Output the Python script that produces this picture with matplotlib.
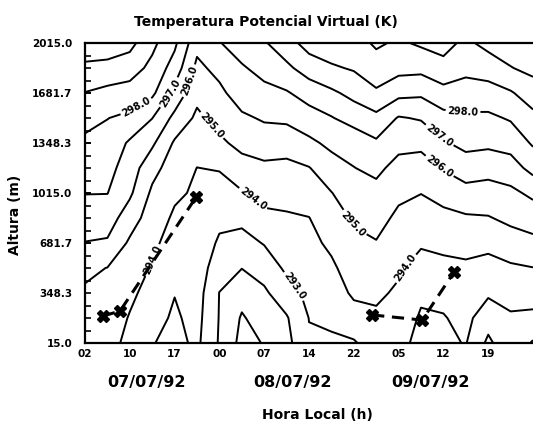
import numpy as np
import matplotlib
matplotlib.use("Agg")
import matplotlib.pyplot as plt
from matplotlib.ticker import AutoMinorLocator

plt.rcParams['font.family'] = ['DejaVu Sans']
plt.rcParams['font.weight'] = 'bold'

# ---------------- data ----------------
# grid times (hours since 07/07/92 00h) and heights (m)
times = [2.0, 5.67, 9.33, 13.0, 16.67, 20.33, 24.0, 27.67, 31.33, 35.0, 38.67,
         42.33, 46.0, 49.67, 53.33, 57.0, 60.67, 64.33, 68.0, 71.67, 75.33]
heights = [15.0, 181.7, 348.3, 515.0, 681.7, 848.3, 1015.0, 1181.7, 1348.3,
           1515.0, 1681.7, 1848.3, 2015.0]

# virtual potential temperature (K), one row per height (bottom -> top)
theta_v = [
    [294.5, 294.4, 293.7, 293.05, 292.7, 293.2, 291.9, 290.7, 291.05, 291.7, 292.9,
     292.85, 292.9, 293.5, 293.3, 292.7, 292.8, 293.05, 291.8, 292.7, 291.9],
    [294.68, 294.59, 293.93, 293.34, 292.86, 293.31, 291.95, 290.90, 291.45, 291.91, 293.02,
     293.18, 293.6, 293.83, 293.57, 292.88, 292.94, 293.28, 292.4, 292.9, 292.77],
    [294.87, 294.78, 294.21, 293.62, 293.03, 293.42, 291.98, 291.34, 291.84, 292.58, 293.25,
     293.51, 294.16, 294.18, 293.85, 293.17, 293.27, 293.57, 293.15, 293.28, 293.43],
    [295.21, 294.98, 294.53, 293.91, 293.30, 293.54, 292.43, 292.02, 292.39, 293.19, 293.49,
     293.83, 294.47, 294.57, 294.14, 293.64, 293.75, 293.85, 293.67, 293.86, 293.98],
    [295.97, 295.88, 294.84, 294.21, 293.58, 293.65, 292.86, 292.63, 293.06, 293.54, 293.74,
     294.19, 294.78, 294.95, 294.47, 294.11, 294.24, 294.29, 294.25, 294.56, 294.75],
    [296.51, 296.47, 295.48, 294.51, 293.85, 293.76, 293.23, 293.26, 293.77, 293.89, 293.98,
     294.58, 295.12, 295.34, 294.80, 294.55, 294.74, 294.88, 294.94, 295.22, 295.45],
    [297.03, 297.02, 296.17, 294.82, 294.16, 293.87, 293.63, 293.92, 294.33, 294.31, 294.46,
     294.97, 295.55, 295.73, 295.2, 295.02, 295.34, 295.65, 295.59, 295.78, 296.21],
    [297.42, 297.33, 296.51, 295.33, 294.51, 293.99, 294.06, 294.63, 294.82, 294.76, 294.96,
     295.58, 295.98, 296.21, 295.7, 295.58, 296.07, 296.52, 296.36, 296.56, 297.33],
    [297.80, 297.67, 296.86, 296.17, 294.87, 294.38, 294.82, 295.27, 295.44, 295.40, 295.79,
     296.23, 296.35, 296.85, 296.26, 296.23, 296.9, 297.27, 297.21, 297.37, 298.12],
    [298.32, 298.02, 297.79, 297.02, 295.73, 294.81, 295.33, 295.82, 296.12, 296.20, 296.58,
     296.94, 297.41, 297.73, 296.92, 297.09, 297.69, 297.82, 297.81, 298.1, 298.73],
    [298.97, 298.74, 298.57, 298.21, 296.70, 295.27, 295.76, 296.53, 296.71, 296.91, 297.41,
     297.82, 298.29, 298.86, 298.29, 298.18, 298.63, 298.57, 298.59, 298.9, 299.52],
    [299.8, 299.64, 299.47, 298.73, 297.57, 295.76, 296.31, 296.89, 297.34, 297.79, 298.47,
     298.87, 299.1, 299.55, 299.32, 299.28, 299.73, 299.26, 299.46, 299.96, 300.26],
    [300.6, 300.7, 300.3, 299.25, 298.2, 296.3, 296.95, 297.5, 297.9, 298.6, 299.4,
     299.6, 299.6, 300.15, 299.85, 300.15, 300.3, 299.8, 300.3, 300.5, 300.8],
]
levels = [291, 292, 293, 294, 295, 296, 297, 298, 299, 300]

# boundary-layer top (dashed lines with X markers)
pbl1_t = [4.95, 7.73, 20.2]
pbl1_z = [195, 228, 988]
pbl2_t = [49.0, 57.2, 62.4]
pbl2_z = [202, 168, 488]

hour_labels = ['02', '10', '17', '00', '07', '14', '22', '05', '12', '19']
height_ticks = [15.0, 348.3, 681.7, 1015.0, 1348.3, 1681.7, 2015.0]
height_labels = ['15.0', '348.3', '681.7', '1015.0', '1348.3', '1681.7', '2015.0']
dates = ['07/07/92', '08/07/92', '09/07/92']

# ---------------- plot ----------------
fig = plt.figure(figsize=(5.33, 4.26), dpi=100)
ax = fig.add_axes([85 / 533, 83 / 426, 448 / 533, 300 / 426])

T, Zh = np.meshgrid(times, heights)
cs = ax.contour(T, Zh, np.array(theta_v), levels=levels, colors='black',
                linewidths=1.4)

label_pos = [(11.0, 1548), (16.8, 1660), (18.7, 1768), (22.8, 1468),
             (29.3, 968), (13.0, 568), (35.9, 382), (63.9, 1568),
             (59.8, 1388), (59.8, 1182), (45.7, 802), (54.4, 515)]
txts = ax.clabel(cs, fmt='%.1f', fontsize=7, inline=True, inline_spacing=2,
                 manual=label_pos)
for t in txts:
    t.set_fontweight('bold')

for tt, zz in [(pbl1_t, pbl1_z), (pbl2_t, pbl2_z)]:
    ax.plot(tt, zz, color='black', linestyle=(0, (4, 2.5)), linewidth=2.2)
    ax.plot(tt, zz, linestyle='none', marker='X', markersize=8, color='black')

ax.set_xlim(2.0, 75.33)
ax.set_ylim(15.0, 2015.0)
ax.set_xticks([2 + k * 22 / 3 for k in range(len(hour_labels))])
ax.set_xticklabels(hour_labels, fontsize=7.5, fontweight='bold')
ax.set_yticks(height_ticks)
ax.set_yticklabels(height_labels, fontsize=7.5, fontweight='bold')
ax.yaxis.set_minor_locator(AutoMinorLocator(4))
ax.tick_params(axis='y', which='both', direction='in', length=4, width=1.2,
               pad=9)
ax.tick_params(axis='x', which='both', length=0, pad=4)
for s in ['left', 'top', 'bottom']:
    ax.spines[s].set_linewidth(1.6)
ax.spines['right'].set_visible(False)

fig.text(266 / 533, 1 - 22 / 426, 'Temperatura Potencial Virtual (K)',
         ha='center', va='center', fontsize=10, fontweight='bold')
for d, xf in zip(dates, [146 / 533, 293 / 533, 430 / 533]):
    fig.text(xf, 1 - 383 / 426, d, ha='center', va='center', fontsize=11.5,
             fontweight='bold')
fig.text(317 / 533, 1 - 415 / 426, 'Hora Local (h)', ha='center', va='center',
         fontsize=10, fontweight='bold')
fig.text(15 / 533, 1 - 215 / 426, 'Altura (m)', ha='center', va='center',
         rotation=90, fontsize=10, fontweight='bold')

fig.savefig('out.png', dpi=100)
